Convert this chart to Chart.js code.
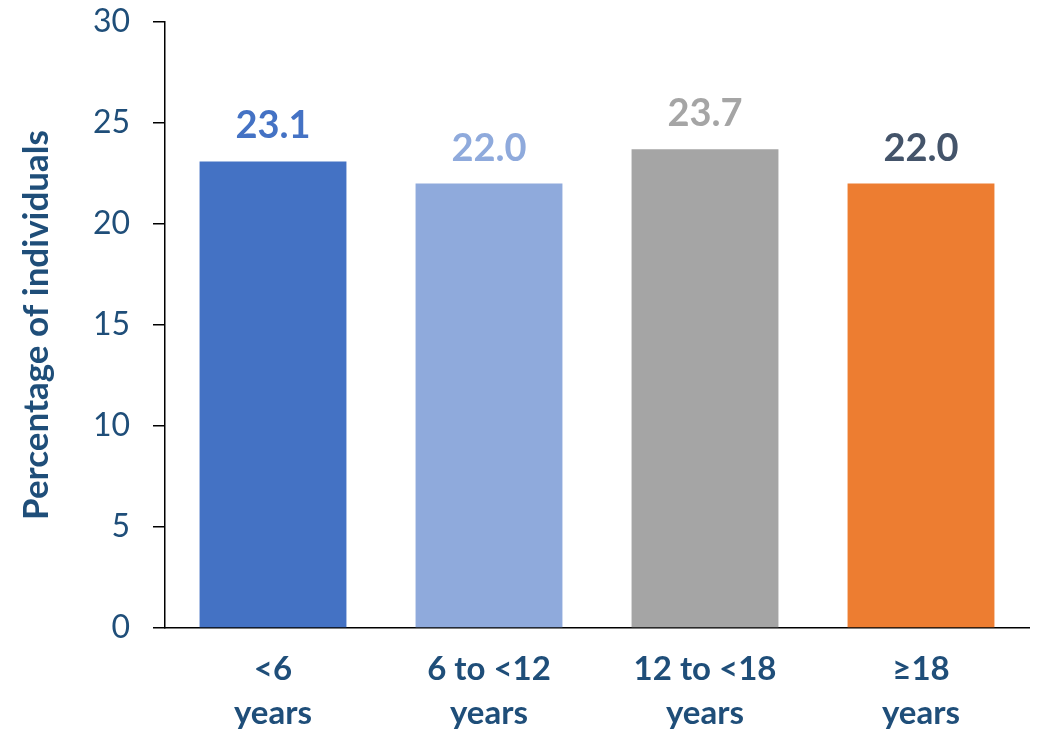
<!DOCTYPE html>
<html>
<head>
<meta charset="utf-8">
<script src="https://cdn.jsdelivr.net/npm/chart.js@4/dist/chart.umd.min.js"></script>
<style>
  html, body { margin: 0; padding: 0; background: #fff; }
  #wrap { width: 1041px; height: 732px; }
</style>
</head>
<body>
<div id="wrap"><canvas id="ageChart"></canvas></div>
<script>
const categories = [["<6", "years"], ["6 to <12", "years"], ["12 to <18", "years"], ["\u226518", "years"]];
const percentages = [23.1, 22.0, 23.7, 22.0];
const yTicks = [0, 5, 10, 15, 20, 25, 30];
const barColors = ["#4472C4", "#8FAADC", "#A5A5A5", "#ED7D31"];
const labelColors = ["#4472C4", "#8FAADC", "#A5A5A5", "#44546A"];

const FONT = "Lato, 'Open Sans', sans-serif";
const AXIS_BLUE = "#1F4E79";

// values above the bars
const barValues = {
  id: "barValues",
  afterDatasetsDraw(chart) {
    const ctx = chart.ctx;
    const meta = chart.getDatasetMeta(0);
    ctx.save();
    ctx.font = "bold 38px " + FONT;
    ctx.textAlign = "center";
    ctx.textBaseline = "alphabetic";
    meta.data.forEach((bar, i) => {
      ctx.fillStyle = labelColors[i];
      ctx.fillText(percentages[i].toFixed(1), bar.x, bar.y - 23);
    });
    ctx.restore();
  }
};

const ctx = document.getElementById("ageChart").getContext("2d");
new Chart(ctx, {
  type: "bar",
  data: {
    labels: categories,
    datasets: [{
      data: percentages,
      backgroundColor: barColors,
      barPercentage: 0.68,
      categoryPercentage: 1
    }]
  },
  options: {
    responsive: true,
    maintainAspectRatio: false,
    animation: false,
    layout: { padding: { left: 12, right: 12, top: 22, bottom: 0 } },
    plugins: {
      legend: { display: false },
      tooltip: { enabled: false }
    },
    scales: {
      x: {
        grid: { display: false, drawTicks: false },
        border: { display: true, color: "#000", width: 1.5 },
        ticks: {
          color: AXIS_BLUE,
          font: { family: FONT, size: 33, weight: "bold", lineHeight: 1.32 },
          padding: 20,
          maxRotation: 0
        },
        afterFit(scale) {
          scale.height = 104;
          scale.paddingLeft = 0;
          scale.paddingRight = 0;
        }
      },
      y: {
        min: 0,
        max: 30,
        afterBuildTicks(scale) { scale.ticks = yTicks.map(v => ({ value: v })); },
        grid: { drawOnChartArea: false, drawTicks: true, tickLength: 12, color: "#000", lineWidth: 1.5 },
        border: { display: true, color: "#000", width: 1.5 },
        ticks: {
          color: AXIS_BLUE,
          font: { family: FONT, size: 32 },
          padding: 23
        },
        title: {
          display: true,
          text: "Percentage of individuals",
          color: AXIS_BLUE,
          font: { family: FONT, size: 35, weight: "bold" },
          padding: { top: 4, bottom: 4 }
        },
        afterFit(scale) {
          scale.width = 153;
          scale.paddingTop = 0;
          scale.paddingBottom = 0;
        }
      }
    }
  },
  plugins: [barValues]
});
</script>
</body>
</html>
